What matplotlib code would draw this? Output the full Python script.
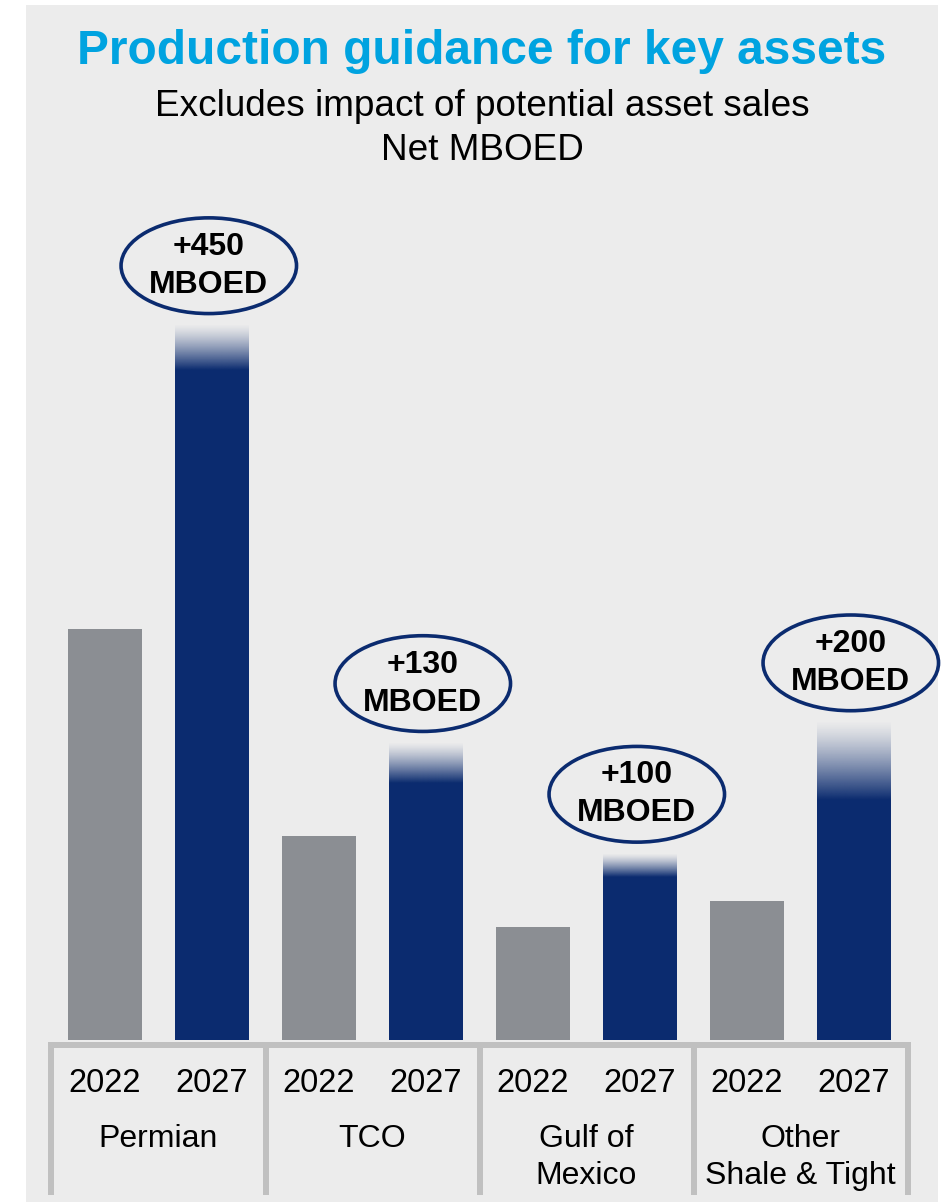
import matplotlib
matplotlib.use('Agg')  # no display
import matplotlib.pyplot as plt
from matplotlib.patches import Rectangle, Ellipse
import numpy as np

# Data (net MBOED)
assets = ["Permian", "TCO", "Gulf of\nMexico", "Other\nShale & Tight"]
years = ["2022", "2027"]
prod_2022 = [575, 285, 158, 195]
prod_2027 = [1000, 415, 260, 444]
fade_2027 = [62, 55, 32, 108]          # faded (uncertain) top part of 2027 bars
growth_labels = ["+450\nMBOED", "+130\nMBOED", "+100\nMBOED", "+200\nMBOED"]

GREY = "#8b8e93"
NAVY = "#0b2b6f"
PANEL = "#ececec"
SEP = "#c0c0c0"
BLUE = "#00a3e0"

plt.rcParams['font.family'] = ['Liberation Sans', 'DejaVu Sans']

W, H = 944, 1203
fig = plt.figure(figsize=(W / 100, H / 100), dpi=100)
fig.patch.set_facecolor("white")
fig.patches.append(Rectangle((26 / W, 1 - 1202 / H), (938 - 26) / W, (1202 - 5) / H,
                             transform=fig.transFigure, facecolor=PANEL,
                             edgecolor="none", zorder=-1))

# axes: x -0.5..7.5 -> 51.5..907.5 px, y 0 at 1040 px, top at 200 px
ax = fig.add_axes([51.5 / W, 1 - 1040 / H, 856 / W, 840 / H])
ax.set_facecolor("none")
ymax = 840 * 1.4
for s in ax.spines.values():
    s.set_visible(False)
ax.set_xticks([])
ax.set_yticks([])

bw = 0.69
x22 = np.arange(len(assets)) * 2
x27 = x22 + 1
ax.bar(x22, prod_2022, width=bw, color=GREY, zorder=2)

# 2027 bars: solid part plus a top that fades into the background
solid = [p - f for p, f in zip(prod_2027, fade_2027)]
ax.bar(x27, solid, width=bw, color=NAVY, zorder=2)
rgb = matplotlib.colors.to_rgb(NAVY)
grad = np.zeros((100, 1, 4))
grad[..., :3] = rgb
grad[:, 0, 3] = np.linspace(1, 0.03, 100) ** 1.3
for x, s, p in zip(x27, solid, prod_2027):
    ax.imshow(grad, extent=[x - bw / 2, x + bw / 2, s, p], origin='lower',
              aspect='auto', interpolation='bilinear', zorder=2)

# growth ellipses
for x, p, lab in zip(x27, prod_2027, growth_labels):
    cy = p + 84
    ax.add_patch(Ellipse((x - 0.03, cy), 1.64, 134, facecolor="none",
                         edgecolor=NAVY, linewidth=2.6, zorder=3, clip_on=False))
    ax.text(x - 0.03, cy, lab, ha="center", va="center", fontsize=23,
            fontweight="bold", color="black", linespacing=1.35, zorder=4)

ax.set_xlim(-0.5, 7.5)
ax.set_ylim(0, ymax)

# category axis with separators
tr = ax.get_xaxis_transform()
def fy(px):
    return (1040 - px) / 840

ax.plot([-0.53, 7.53], [fy(1045), fy(1045)], color=SEP, lw=4.3,
        transform=tr, clip_on=False, solid_capstyle="butt", zorder=1)
for xs in [-0.5, 1.5, 3.5, 5.5, 7.5]:
    ax.plot([xs, xs], [fy(1043), fy(1195)], color=SEP, lw=4.3,
            transform=tr, clip_on=False, solid_capstyle="butt", zorder=1)

for i in range(len(assets)):
    for j, yr in enumerate(years):
        ax.text(x22[i] + j, fy(1083), yr, ha="center", va="center",
                fontsize=23.5, transform=tr)
    ax.text(x22[i] + 0.5, fy(1124), assets[i], ha="center", va="top",
            fontsize=23, linespacing=1.3, transform=tr)

# titles
fig.text(482 / W, 1 - 52 / H, "Production guidance for key assets",
         ha="center", va="center", fontsize=34.5, fontweight="bold", color=BLUE)
fig.text(482 / W, 1 - 106 / H, "Excludes impact of potential asset sales",
         ha="center", va="center", fontsize=26.6, color="black")
fig.text(482 / W, 1 - 151 / H, "Net MBOED",
         ha="center", va="center", fontsize=26.6, color="black")

fig.savefig("out.png", dpi=100, facecolor=fig.get_facecolor())
